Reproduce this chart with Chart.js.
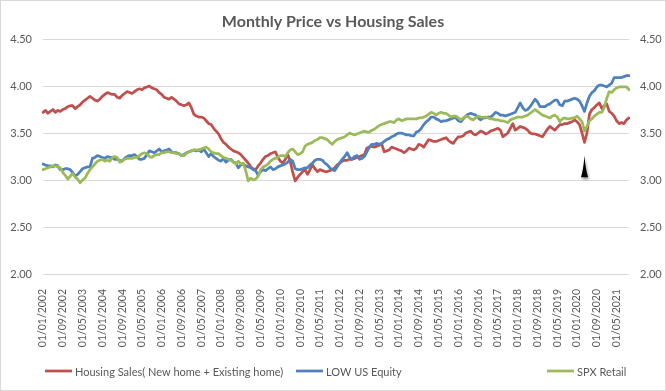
<!DOCTYPE html>
<html>
<head>
<meta charset="utf-8">
<script src="https://cdn.jsdelivr.net/npm/chart.js@4.4.0/dist/chart.umd.min.js"></script>
<style>
  html, body { margin: 0; padding: 0; background: #fff; }
</style>
</head>
<body>
<canvas id="myChart" width="666" height="391"></canvas>
<script>
// monthly data, 01/01/2002 .. 01/10/2021
const startYear = 2002;
const monthCount = 238;
const labelEvery = 8;
const yTicks = [2.0, 2.5, 3.0, 3.5, 4.0, 4.5];

const housingSales = [
    3.72, 3.74, 3.71, 3.73, 3.75, 3.72, 3.74, 3.73, 3.75, 3.76, 3.78, 3.79,
    3.79, 3.76, 3.78, 3.80, 3.83, 3.85, 3.87, 3.89, 3.87, 3.85, 3.84, 3.86,
    3.89, 3.91, 3.93, 3.92, 3.91, 3.91, 3.88, 3.87, 3.90, 3.92, 3.94, 3.93,
    3.92, 3.94, 3.96, 3.97, 3.96, 3.98, 3.99, 4.00, 3.98, 3.97, 3.96, 3.93,
    3.91, 3.88, 3.87, 3.86, 3.88, 3.86, 3.84, 3.81, 3.80, 3.79, 3.80, 3.82,
    3.77, 3.70, 3.68, 3.67, 3.67, 3.66, 3.63, 3.60, 3.59, 3.55, 3.52, 3.49,
    3.44, 3.40, 3.38, 3.35, 3.33, 3.31, 3.30, 3.29, 3.27, 3.24, 3.21, 3.18,
    3.14, 3.12, 3.11, 3.15, 3.18, 3.22, 3.25, 3.26, 3.28, 3.29, 3.30, 3.24,
    3.20, 3.18, 3.22, 3.27, 3.20, 3.08, 2.99, 3.03, 3.06, 3.09, 3.11, 3.06,
    3.11, 3.16, 3.12, 3.09, 3.11, 3.10, 3.09, 3.09, 3.10, 3.11, 3.13, 3.16,
    3.18, 3.20, 3.21, 3.21, 3.22, 3.22, 3.23, 3.24, 3.25, 3.26, 3.27, 3.34,
    3.35, 3.36, 3.35, 3.36, 3.37, 3.38, 3.30, 3.31, 3.32, 3.35, 3.34, 3.33,
    3.32, 3.31, 3.29, 3.31, 3.34, 3.33, 3.32, 3.34, 3.38, 3.37, 3.35, 3.39,
    3.43, 3.42, 3.41, 3.41, 3.42, 3.43, 3.44, 3.45, 3.42, 3.40, 3.39, 3.43,
    3.46, 3.46, 3.47, 3.50, 3.51, 3.52, 3.49, 3.48, 3.50, 3.52, 3.51, 3.49,
    3.50, 3.52, 3.53, 3.54, 3.55, 3.53, 3.46, 3.48, 3.50, 3.55, 3.60, 3.53,
    3.55, 3.57, 3.56, 3.55, 3.53, 3.50, 3.49, 3.49, 3.48, 3.47, 3.46, 3.50,
    3.54, 3.57, 3.55, 3.53, 3.56, 3.59, 3.59, 3.60, 3.60, 3.61, 3.62, 3.64,
    3.62, 3.59, 3.50, 3.40, 3.50, 3.70, 3.75, 3.77, 3.80, 3.82, 3.76, 3.79,
    3.81, 3.73, 3.71, 3.68, 3.63, 3.60, 3.61, 3.60, 3.64, 3.66
];

const lowEquity = [
    3.17, 3.16, 3.15, 3.15, 3.14, 3.16, 3.15, 3.11, 3.11, 3.12, 3.12, 3.11,
    3.08, 3.04, 3.06, 3.09, 3.12, 3.13, 3.14, 3.14, 3.23, 3.24, 3.26, 3.25,
    3.24, 3.23, 3.25, 3.24, 3.24, 3.22, 3.22, 3.21, 3.20, 3.23, 3.25, 3.26,
    3.26, 3.27, 3.25, 3.22, 3.22, 3.23, 3.27, 3.31, 3.30, 3.29, 3.31, 3.33,
    3.30, 3.31, 3.32, 3.33, 3.30, 3.29, 3.29, 3.28, 3.26, 3.27, 3.29, 3.30,
    3.31, 3.32, 3.31, 3.32, 3.30, 3.33, 3.29, 3.25, 3.28, 3.25, 3.23, 3.21,
    3.20, 3.23, 3.19, 3.21, 3.22, 3.19, 3.18, 3.13, 3.16, 3.17, 3.15, 3.14,
    3.13, 3.11, 3.10, 3.05, 3.09, 3.11, 3.10, 3.12, 3.14, 3.11, 3.12, 3.14,
    3.15, 3.16, 3.17, 3.19, 3.22, 3.20, 3.12, 3.11, 3.11, 3.12, 3.13, 3.13,
    3.16, 3.18, 3.21, 3.22, 3.22, 3.21, 3.18, 3.16, 3.13, 3.11, 3.10, 3.14,
    3.18, 3.22, 3.25, 3.29, 3.24, 3.22, 3.25, 3.26, 3.22, 3.23, 3.25, 3.30,
    3.35, 3.38, 3.38, 3.39, 3.38, 3.39, 3.41, 3.43, 3.44, 3.46, 3.47, 3.49,
    3.50, 3.50, 3.49, 3.48, 3.48, 3.47, 3.47, 3.51, 3.52, 3.55, 3.59, 3.62,
    3.64, 3.67, 3.67, 3.65, 3.64, 3.62, 3.63, 3.63, 3.64, 3.65, 3.66, 3.66,
    3.63, 3.62, 3.65, 3.68, 3.70, 3.71, 3.70, 3.69, 3.66, 3.64, 3.66, 3.66,
    3.67, 3.67, 3.69, 3.72, 3.71, 3.69, 3.69, 3.68, 3.69, 3.70, 3.71, 3.72,
    3.77, 3.82, 3.77, 3.74, 3.75, 3.78, 3.82, 3.86, 3.83, 3.78, 3.78, 3.78,
    3.80, 3.81, 3.83, 3.85, 3.85, 3.80, 3.79, 3.84, 3.84, 3.85, 3.86, 3.87,
    3.86, 3.84, 3.79, 3.73, 3.82, 3.89, 3.93, 3.95, 3.99, 4.01, 4.01, 4.00,
    3.99, 4.01, 4.03, 4.09, 4.09, 4.09, 4.09, 4.10, 4.11, 4.11
];

const spxRetail = [
    3.11, 3.12, 3.13, 3.14, 3.15, 3.15, 3.14, 3.13, 3.08, 3.05, 3.01, 3.04,
    3.07, 3.03, 3.01, 2.97, 3.00, 3.02, 3.07, 3.11, 3.14, 3.17, 3.20, 3.21,
    3.22, 3.20, 3.21, 3.20, 3.24, 3.25, 3.24, 3.19, 3.20, 3.22, 3.23, 3.23,
    3.23, 3.24, 3.24, 3.26, 3.28, 3.29, 3.28, 3.25, 3.24, 3.26, 3.27, 3.27,
    3.29, 3.29, 3.30, 3.30, 3.29, 3.29, 3.28, 3.28, 3.26, 3.26, 3.28, 3.30,
    3.31, 3.32, 3.32, 3.32, 3.33, 3.34, 3.35, 3.33, 3.30, 3.29, 3.28, 3.28,
    3.26, 3.24, 3.23, 3.22, 3.21, 3.19, 3.17, 3.20, 3.17, 3.18, 3.10, 2.99,
    3.02, 3.00, 3.01, 3.04, 3.11, 3.14, 3.15, 3.17, 3.20, 3.22, 3.23, 3.24,
    3.26, 3.26, 3.25, 3.29, 3.32, 3.33, 3.30, 3.27, 3.28, 3.30, 3.36, 3.38,
    3.39, 3.40, 3.42, 3.43, 3.45, 3.45, 3.44, 3.43, 3.40, 3.38, 3.41, 3.43,
    3.44, 3.45, 3.46, 3.48, 3.50, 3.49, 3.48, 3.49, 3.50, 3.51, 3.52, 3.51,
    3.51, 3.53, 3.54, 3.56, 3.58, 3.59, 3.60, 3.61, 3.62, 3.62, 3.61, 3.64,
    3.65, 3.63, 3.64, 3.65, 3.65, 3.65, 3.65, 3.65, 3.66, 3.66, 3.67, 3.68,
    3.70, 3.72, 3.71, 3.69, 3.71, 3.72, 3.71, 3.71, 3.69, 3.67, 3.68, 3.68,
    3.66, 3.64, 3.66, 3.68, 3.67, 3.65, 3.64, 3.66, 3.68, 3.67, 3.67, 3.67,
    3.66, 3.65, 3.65, 3.64, 3.64, 3.63, 3.63, 3.62, 3.61, 3.64, 3.65, 3.66,
    3.67, 3.67, 3.67, 3.68, 3.69, 3.71, 3.73, 3.75, 3.73, 3.71, 3.69, 3.68,
    3.67, 3.66, 3.68, 3.69, 3.67, 3.62, 3.65, 3.66, 3.65, 3.65, 3.66, 3.66,
    3.68, 3.65, 3.62, 3.52, 3.57, 3.63, 3.65, 3.68, 3.70, 3.72, 3.72, 3.77,
    3.87, 3.94, 3.93, 3.96, 3.98, 3.99, 3.99, 3.99, 3.99, 3.96
];

const seriesNames = ['Housing Sales( New home + Existing home)', 'LOW US Equity', 'SPX Retail'];
const seriesColors = ['#C0504D', '#4F81BD', '#9BBB59'];
const arrowIndex = 219; // 01/04/2020

const labels = [];
for (var i = 0; i < monthCount; i++) {
    var y = startYear + Math.floor(i / 12);
    var m = (i % 12) + 1;
    labels.push('01/' + (m < 10 ? '0' + m : m) + '/' + y);
}

const textColor = '#595959';
const fontFamily = 'Lato, "Open Sans", sans-serif';

// title, legend, marker arrow and outer border drawn by hand
const extras = {
    id: 'extras',
    beforeDraw: (chart) => {
        const ctx = chart.ctx;
        ctx.save();
        ctx.fillStyle = '#fff';
        ctx.fillRect(0, 0, chart.width, chart.height);
        ctx.restore();
    },
    afterDraw: (chart) => {
        const ctx = chart.ctx;
        ctx.save();
        ctx.strokeStyle = '#d9d9d9';
        ctx.lineWidth = 1;
        ctx.strokeRect(0.5, 0.5, chart.width - 1, chart.height - 1);

        ctx.fillStyle = textColor;
        ctx.font = 'bold 16px ' + fontFamily;
        ctx.textAlign = 'center';
        ctx.textBaseline = 'middle';
        ctx.fillText('Monthly Price vs Housing Sales', chart.width / 2, 22);

        // legend
        const legendX = [45, 296, 547];
        const legendY = 371;
        ctx.font = '11px ' + fontFamily;
        ctx.textAlign = 'left';
        chart.data.datasets.forEach((ds, k) => {
            ctx.strokeStyle = ds.borderColor;
            ctx.lineWidth = 2.75;
            ctx.beginPath();
            ctx.moveTo(legendX[k], legendY);
            ctx.lineTo(legendX[k] + 27, legendY);
            ctx.stroke();
            ctx.fillStyle = textColor;
            ctx.fillText(ds.label, legendX[k] + 30, legendY + 1);
        });

        // black arrow under the 2020 dip
        const xs = chart.scales.x;
        const ys = chart.scales.y;
        const ax = xs.getPixelForValue(arrowIndex);
        const top = ys.getPixelForValue(3.26);
        const bot = ys.getPixelForValue(3.03);
        ctx.shadowColor = 'rgba(0,0,0,0.45)';
        ctx.shadowBlur = 3;
        ctx.shadowOffsetX = 1;
        ctx.shadowOffsetY = 2;
        ctx.fillStyle = '#000';
        ctx.beginPath();
        ctx.moveTo(ax, top);
        ctx.quadraticCurveTo(ax - 1, bot - 8, ax - 3.5, bot);
        ctx.lineTo(ax + 3.5, bot);
        ctx.quadraticCurveTo(ax + 1, bot - 8, ax, top);
        ctx.fill();
        ctx.restore();
    }
};

const renderChart = () => {
    var ctx = document.getElementById('myChart').getContext('2d');
    var lineStyle = {
        borderWidth: 2.75,
        pointRadius: 0,
        pointHoverRadius: 0,
        tension: 0,
        fill: false,
        borderJoinStyle: 'round',
        borderCapStyle: 'round'
    };
    var chart = new Chart(ctx, {
        type: 'line',
        data: {
            labels: labels,
            datasets: [
                Object.assign({ label: seriesNames[0], data: housingSales, borderColor: seriesColors[0], backgroundColor: seriesColors[0], yAxisID: 'y', order: 3 }, lineStyle),
                Object.assign({ label: seriesNames[1], data: lowEquity, borderColor: seriesColors[1], backgroundColor: seriesColors[1], yAxisID: 'y1', order: 2 }, lineStyle),
                Object.assign({ label: seriesNames[2], data: spxRetail, borderColor: seriesColors[2], backgroundColor: seriesColors[2], yAxisID: 'y1', order: 1 }, lineStyle)
            ]
        },
        options: {
            responsive: false,
            animation: false,
            devicePixelRatio: 1,
            layout: { padding: { top: 39, left: 0, right: 0, bottom: 0 } },
            plugins: {
                legend: { display: false },
                title: { display: false },
                tooltip: { enabled: false }
            },
            scales: {
                x: {
                    type: 'category',
                    offset: false,
                    grid: { display: false },
                    border: { display: false },
                    ticks: {
                        autoSkip: false,
                        maxRotation: 90,
                        minRotation: 90,
                        padding: 7,
                        color: textColor,
                        font: { family: fontFamily, size: 10.5 },
                        callback: (val, idx) => idx % labelEvery === 0 ? labels[idx] : ''
                    },
                    afterFit: (scale) => { scale.height = 117; }
                },
                y: {
                    position: 'left',
                    min: yTicks[0],
                    max: yTicks[yTicks.length - 1],
                    afterBuildTicks: (scale) => { scale.ticks = yTicks.map((v) => ({ value: v })); },
                    grid: { color: '#d9d9d9', lineWidth: 1, drawTicks: false },
                    border: { display: false },
                    ticks: {
                        padding: 11,
                        color: textColor,
                        font: { family: fontFamily, size: 11 },
                        callback: (v) => Number(v).toFixed(2)
                    },
                    afterFit: (scale) => { scale.width = 43; }
                },
                y1: {
                    position: 'right',
                    min: yTicks[0],
                    max: yTicks[yTicks.length - 1],
                    afterBuildTicks: (scale) => { scale.ticks = yTicks.map((v) => ({ value: v })); },
                    grid: { display: false, drawTicks: false },
                    border: { display: false },
                    ticks: {
                        padding: 11,
                        color: textColor,
                        font: { family: fontFamily, size: 11 },
                        callback: (v) => Number(v).toFixed(2)
                    },
                    afterFit: (scale) => { scale.width = 37; }
                }
            }
        },
        plugins: [extras]
    });
};

renderChart();
</script>
</body>
</html>
